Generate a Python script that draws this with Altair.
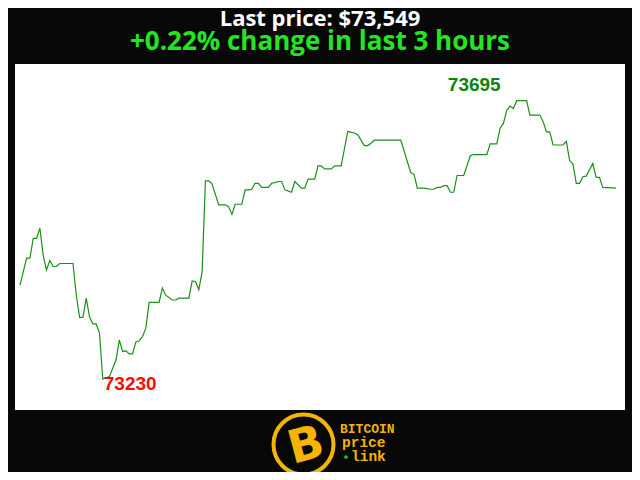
import altair as alt
import pandas as pd

minutes = [0, 2, 3, 4, 5, 6, 7, 8, 9, 10,
           11, 12, 16, 17, 18, 19, 20, 21, 22, 23,
           24, 25, 27, 29, 30, 31, 32, 33, 34, 35,
           36, 37, 38, 39, 42, 43, 44, 46, 47, 48,
           51, 52, 53, 54, 55, 56, 57, 58, 60, 62,
           63, 64, 65, 67, 68, 69, 70, 71, 72, 73,
           75, 76, 77, 78, 79, 80, 82, 83, 85, 86,
           87, 89, 90, 91, 92, 94, 95, 97, 99, 100,
           101, 102, 104, 105, 106, 107, 115, 118, 119, 120,
           122, 124, 125, 126, 127, 128, 129, 130, 131, 132,
           134, 136, 137, 141, 142, 144, 145, 146, 147, 148,
           149, 150, 153, 154, 157, 158, 159, 160, 161, 164,
           165, 166, 167, 168, 169, 170, 171, 173, 174, 175,
           176, 180]

prices = [73387, 73432, 73432, 73465, 73465, 73482, 73437, 73412, 73428, 73418,
          73418, 73423, 73423, 73370, 73333, 73333, 73365, 73334, 73322, 73322,
          73307, 73230, 73234, 73262, 73295, 73276, 73277, 73272, 73272, 73292,
          73294, 73301, 73315, 73358, 73358, 73382, 73370, 73362, 73362, 73365,
          73365, 73394, 73393, 73379, 73409, 73561, 73561, 73556, 73521, 73521,
          73518, 73505, 73522, 73522, 73546, 73546, 73547, 73557, 73557, 73550,
          73550, 73557, 73558, 73560, 73560, 73546, 73542, 73560, 73549, 73549,
          73564, 73564, 73586, 73586, 73581, 73581, 73586, 73586, 73644, 73642,
          73641, 73638, 73620, 73620, 73624, 73629, 73629, 73575, 73572, 73549,
          73549, 73547, 73547, 73550, 73550, 73553, 73553, 73542, 73542, 73570,
          73570, 73603, 73605, 73605, 73623, 73623, 73649, 73657, 73679, 73686,
          73682, 73695, 73695, 73671, 73671, 73660, 73643, 73643, 73621, 73621,
          73627, 73595, 73589, 73557, 73557, 73568, 73569, 73590, 73567, 73567,
          73550, 73549]

title_text = "Last price: $73,549"
subtitle_text = "+0.22% change in last 3 hours"
logo_lines = ["BITCOIN", "price", "link"]
logo_letter = "B"

df = pd.DataFrame({"minute": minutes, "price": prices})
min_df = df.loc[[df["price"].idxmin()]].copy()
max_df = df.loc[[df["price"].idxmax()]].copy()
min_df["label"] = min_df["price"].astype(str)
max_df["label"] = max_df["price"].astype(str)
one = pd.DataFrame({"k": [0]})

xs = alt.Scale(domain=[-1.51, 182.72], nice=False, zero=False)
ys = alt.Scale(domain=[73178.2, 73756.3], nice=False, zero=False)
X = alt.X("minute:Q", scale=xs, axis=None)
Y = alt.Y("price:Q", scale=ys, axis=None)

line = alt.Chart(df).mark_line(color="#1b8f1b", strokeWidth=1.2).encode(x=X, y=Y)

min_lbl = alt.Chart(min_df).mark_text(
    align="left", baseline="alphabetic", dx=1, dy=11,
    font="Liberation Sans", fontWeight="bold", fontSize=19, color="#ff0a0a"
).encode(x=X, y=Y, text="label:N")

max_lbl = alt.Chart(max_df).mark_text(
    align="right", baseline="alphabetic", dx=-16, dy=-10,
    font="Liberation Sans", fontWeight="bold", fontSize=19, color="#0a840a"
).encode(x=X, y=Y, text="label:N")

title_mark = alt.Chart(one).mark_text(
    text=title_text, font="Open Sans", fontWeight="bold", fontSize=22,
    color="white", align="center", baseline="alphabetic"
).encode(x=alt.value(305), y=alt.value(-38.5))

subtitle_mark = alt.Chart(one).mark_text(
    text=subtitle_text, font="Open Sans", fontWeight="bold", fontSize=26,
    color="#22e622", align="center", baseline="alphabetic"
).encode(x=alt.value(305), y=alt.value(-14.5))

yellow = "#f5b400"
ring = alt.Chart(one).mark_point(
    shape="circle", filled=False, stroke=yellow, strokeWidth=4, size=3600, opacity=1
).encode(x=alt.value(288.5), y=alt.value(380.5))

bletter = alt.Chart(one).mark_text(
    text=logo_letter, font="DejaVu Sans", fontWeight="bold", fontSize=46,
    color=yellow, angle=345, align="center", baseline="middle"
).encode(x=alt.value(291), y=alt.value(382))

t1 = alt.Chart(one).mark_text(
    text=logo_lines[0], font="Liberation Mono", fontWeight="bold", fontSize=13,
    color=yellow, align="left", baseline="alphabetic"
).encode(x=alt.value(325), y=alt.value(369))
t2 = alt.Chart(one).mark_text(
    text=logo_lines[1], font="Liberation Mono", fontWeight="bold", fontSize=14.5,
    color=yellow, align="left", baseline="alphabetic"
).encode(x=alt.value(327), y=alt.value(383))
t3 = alt.Chart(one).mark_text(
    text=logo_lines[2], font="Liberation Mono", fontWeight="bold", fontSize=14.5,
    color=yellow, align="left", baseline="alphabetic"
).encode(x=alt.value(336), y=alt.value(397))
dot = alt.Chart(one).mark_point(
    shape="circle", filled=True, color="#22c322", size=14, opacity=1
).encode(x=alt.value(331), y=alt.value(393))

chart = alt.layer(
    line, min_lbl, max_lbl, title_mark, subtitle_mark, ring, bletter, t1, t2, t3, dot
).properties(
    width=610, height=346,
    padding={"left": 7, "top": 56, "right": 7, "bottom": 62},
    autosize=alt.AutoSizeParams(type="none"),
    background="#080808",
).configure_view(stroke=None, fill="white")

chart.save("out.html", embed_options={"renderer": "svg", "actions": False})
